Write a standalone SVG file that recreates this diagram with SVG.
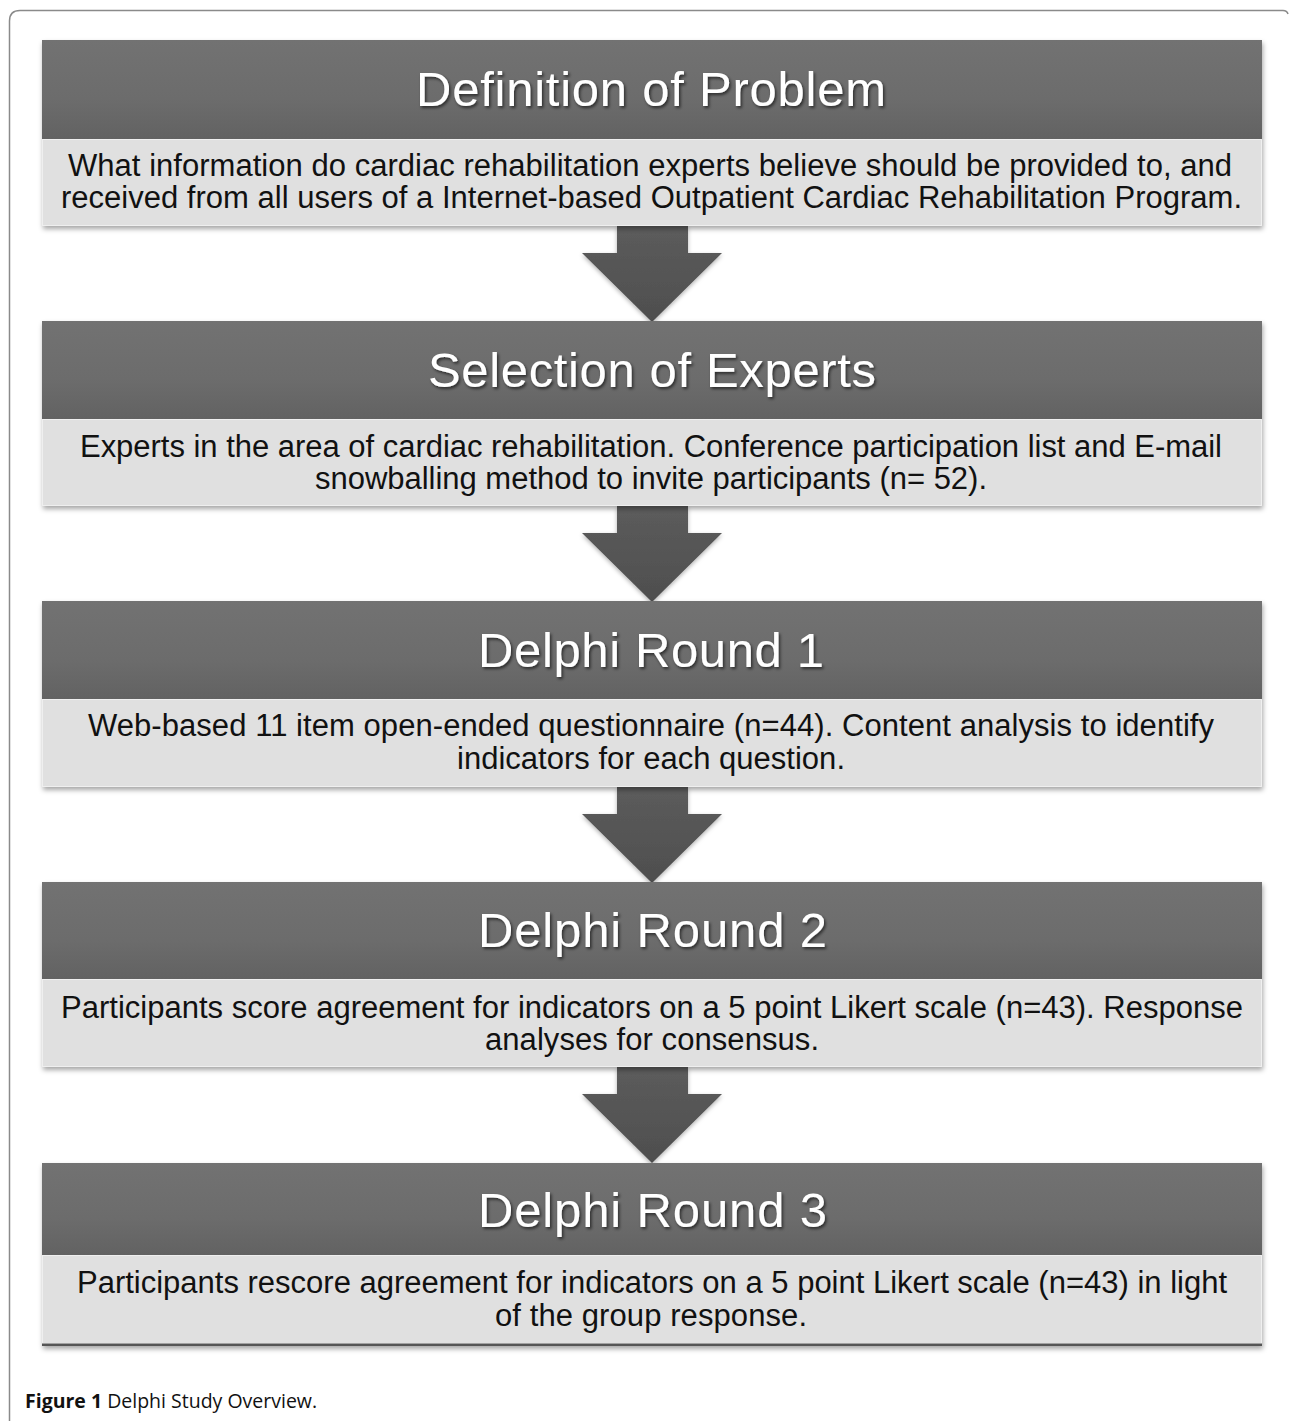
<svg xmlns="http://www.w3.org/2000/svg" width="1289" height="1421" viewBox="0 0 1289 1421">
<style>
.hdr{fill:url(#hg);}
.body{fill:#e0e0e0;stroke:#efefef;stroke-width:1;}
.title{font-family:"Liberation Sans",Arial,sans-serif;font-size:49px;fill:#ffffff;filter:url(#ts);}
.txt{font-family:"Liberation Sans",Arial,sans-serif;font-size:31px;fill:#111111;}
.arrow{fill:url(#ag);filter:url(#as);}
.cap{font-family:"Open Sans","Liberation Sans",sans-serif;font-size:19.5px;fill:#111;}
</style>
<defs>
<linearGradient id="hg" x1="0" y1="0" x2="0" y2="1">
<stop offset="0" stop-color="#727272"/>
<stop offset="0.6" stop-color="#6c6c6c"/>
<stop offset="1" stop-color="#626262"/>
</linearGradient>
<linearGradient id="ag" x1="0" y1="0" x2="0" y2="1">
<stop offset="0" stop-color="#5c5c5c"/>
<stop offset="1" stop-color="#4e4e4e"/>
</linearGradient>
<filter id="ts" x="-5%" y="-30%" width="110%" height="160%">
<feDropShadow dx="1.5" dy="2" stdDeviation="1.5" flood-color="#000" flood-opacity="0.6"/>
</filter>
<filter id="bs" x="-2%" y="-10%" width="104%" height="125%">
<feDropShadow dx="1" dy="3" stdDeviation="2.5" flood-color="#000" flood-opacity="0.35"/>
</filter>
<filter id="as" x="-20%" y="-20%" width="140%" height="140%">
<feDropShadow dx="0" dy="2" stdDeviation="2" flood-color="#000" flood-opacity="0.3"/>
</filter>
</defs>
<rect width="1289" height="1421" fill="#ffffff"/>
<path d="M9.5,1421 L9.5,21 Q9.5,10.5 20,10.5 L1283,10.5 Q1287,10.5 1288,14" fill="none" stroke="#8a8a8a" stroke-width="1.5"/>

<g id="connectors">
<path class="arrow" d="M617,226 L688,226 L688,253 L722,253 L652,322 L582,253 L617,253 Z"/>
<path class="arrow" d="M617,506 L688,506 L688,533 L722,533 L652,602 L582,533 L617,533 Z"/>
<path class="arrow" d="M617,787 L688,787 L688,814 L722,814 L652,883 L582,814 L617,814 Z"/>
<path class="arrow" d="M617,1067 L688,1067 L688,1094 L722,1094 L652,1163 L582,1094 L617,1094 Z"/>
</g>

<g id="node1">
<rect x="42" y="40" width="1220" height="186" fill="#e0e0e0" filter="url(#bs)"/>
<rect class="hdr" x="42" y="40" width="1220" height="99"/>
<rect class="body" x="42.5" y="139.5" width="1219" height="86"/>
<text class="title" x="416" y="106" textLength="470" lengthAdjust="spacing">Definition of Problem</text>
<text class="txt" x="68" y="176" textLength="1164" lengthAdjust="spacing">What information do cardiac rehabilitation experts believe should be provided to, and</text>
<text class="txt" x="61" y="208" textLength="1181" lengthAdjust="spacing">received from all users of a Internet-based Outpatient Cardiac Rehabilitation Program.</text>
</g>

<g id="node2">
<rect x="42" y="321" width="1220" height="185" fill="#e0e0e0" filter="url(#bs)"/>
<rect class="hdr" x="42" y="321" width="1220" height="98"/>
<rect class="body" x="42.5" y="419.5" width="1219" height="86"/>
<text class="title" x="428" y="387" textLength="448" lengthAdjust="spacing">Selection of Experts</text>
<text class="txt" x="80" y="457" textLength="1142" lengthAdjust="spacing">Experts in the area of cardiac rehabilitation. Conference participation list and E-mail</text>
<text class="txt" x="315" y="489" textLength="672" lengthAdjust="spacing">snowballing method to invite participants (n= 52).</text>
</g>

<g id="node3">
<rect x="42" y="601" width="1220" height="186" fill="#e0e0e0" filter="url(#bs)"/>
<rect class="hdr" x="42" y="601" width="1220" height="98"/>
<rect class="body" x="42.5" y="699.5" width="1219" height="87"/>
<text class="title" x="478" y="667" textLength="346" lengthAdjust="spacing">Delphi Round 1</text>
<text class="txt" x="88" y="736" textLength="1126" lengthAdjust="spacing">Web-based 11 item open-ended questionnaire (n=44). Content analysis to identify</text>
<text class="txt" x="457" y="769" textLength="388" lengthAdjust="spacing">indicators for each question.</text>
</g>

<g id="node4">
<rect x="42" y="882" width="1220" height="185" fill="#e0e0e0" filter="url(#bs)"/>
<rect class="hdr" x="42" y="882" width="1220" height="97"/>
<rect class="body" x="42.5" y="979.5" width="1219" height="87"/>
<text class="title" x="478" y="947" textLength="349" lengthAdjust="spacing">Delphi Round 2</text>
<text class="txt" x="61" y="1018" textLength="1182" lengthAdjust="spacing">Participants score agreement for indicators on a 5 point Likert scale (n=43). Response</text>
<text class="txt" x="485" y="1050" textLength="334" lengthAdjust="spacing">analyses for consensus.</text>
</g>

<g id="node5">
<rect x="42" y="1163" width="1220" height="183" fill="#e0e0e0" filter="url(#bs)"/>
<rect class="hdr" x="42" y="1163" width="1220" height="92"/>
<rect class="body" x="42.5" y="1255.5" width="1219" height="88"/>
<rect x="42" y="1343.5" width="1220" height="2.5" fill="#555"/>
<text class="title" x="478" y="1227" textLength="349" lengthAdjust="spacing">Delphi Round 3</text>
<text class="txt" x="77" y="1293" textLength="1150" lengthAdjust="spacing">Participants rescore agreement for indicators on a 5 point Likert scale (n=43) in light</text>
<text class="txt" x="495" y="1326" textLength="312" lengthAdjust="spacing">of the group response.</text>
</g>

<text class="cap" x="25" y="1408"><tspan font-weight="bold">Figure 1</tspan> Delphi Study Overview.</text>
</svg>
